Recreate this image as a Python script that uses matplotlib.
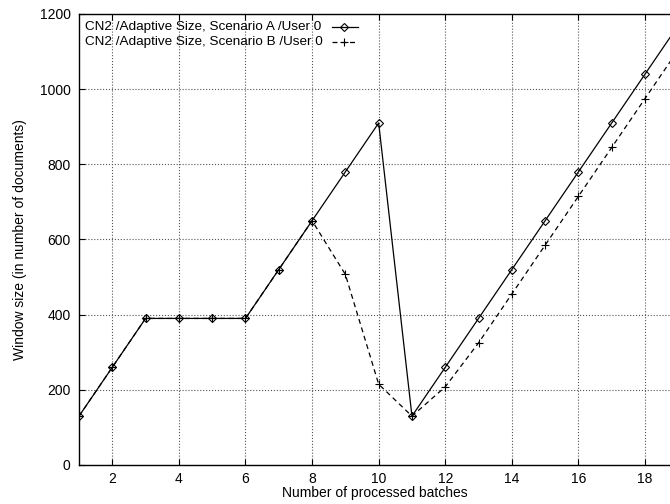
import matplotlib
matplotlib.use("Agg")
import matplotlib.pyplot as plt

plt.rcParams['font.family'] = ['Liberation Sans', 'DejaVu Sans']

batches = [1, 2, 3, 4, 5, 6, 7, 8, 9, 10, 11, 12, 13, 14, 15, 16, 17, 18, 19]
scenario_a = [130, 260, 390, 390, 390, 390, 520, 650, 780, 910, 130, 260, 390,
              520, 650, 780, 910, 1040, 1170]
scenario_b = [130, 260, 390, 390, 390, 390, 520, 650, 507, 215, 130, 208, 325,
              455, 585, 715, 845, 975, 1105]

label_a = "CN2 /Adaptive Size, Scenario A /User 0"
label_b = "CN2 /Adaptive Size, Scenario B /User 0"

fig = plt.figure(figsize=(6.7, 5.04), dpi=100)
ax = fig.add_axes([79 / 670, 39 / 504, 1 - 79 / 670, 451 / 504])

style_a = dict(color='black', linewidth=0.9, linestyle='-', marker='D',
               markersize=4, markerfacecolor='none', markeredgewidth=0.8)
style_b = dict(color='black', linewidth=0.9, linestyle=(0, (4, 3)), marker='+',
               markersize=6, markeredgewidth=0.8)

ax.plot(batches, scenario_a, **style_a)
ax.plot(batches, scenario_b, **style_b)

ax.set_xlim(1, 18.75)
ax.set_ylim(0, 1200)
ax.set_xticks(range(2, 19, 2))
ax.set_yticks(range(0, 1201, 200))

ax.grid(True, color='#555555', linestyle=':', linewidth=0.8)
ax.tick_params(direction='in', labelsize=10, top=True, length=4, width=0.8)
ax.tick_params(axis='x', pad=5)
ax.tick_params(axis='y', pad=6)
ax.spines['right'].set_visible(False)
for s in ['left', 'bottom', 'top']:
    ax.spines[s].set_linewidth(1.0)

ax.set_xlabel("Number of processed batches", fontsize=10, labelpad=0)
ax.set_ylabel("Window size (in number of documents)", fontsize=10, labelpad=9)

# gnuplot-style key: text left, sample on the right
for yk, lab, st in [(0.971, label_a, style_a), (0.938, label_b, style_b)]:
    ax.text(0.010, yk, lab, transform=ax.transAxes, fontsize=9.7,
            ha='left', va='center')
    ax.plot([0.428, 0.472], [yk, yk], transform=ax.transAxes, clip_on=False,
            **{k: v for k, v in st.items() if k not in ('marker',)})
    ax.plot([0.449], [yk], transform=ax.transAxes, clip_on=False, **st)

fig.savefig("out.png", dpi=100)
